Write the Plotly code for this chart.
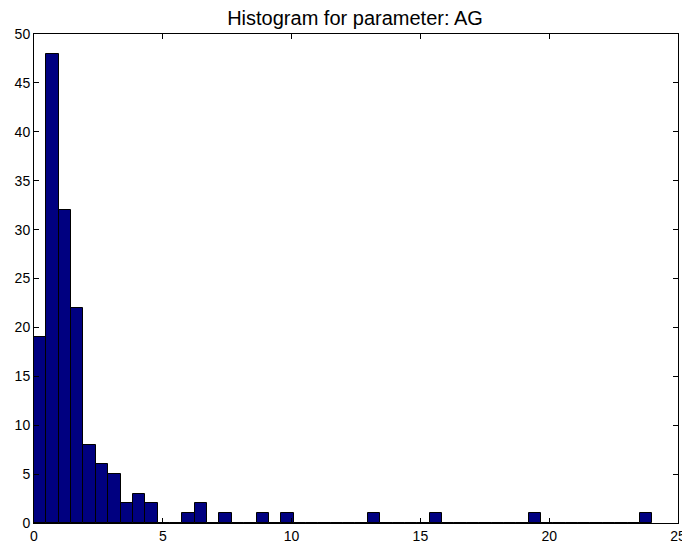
import numpy as np
import plotly.graph_objects as go

# Histogram data: 50 bins spanning 0 .. 24
bin_min = 0.0
bin_max = 24.0
n_bins = 50
counts = [19, 48, 32, 22, 8, 6, 5, 2, 3, 2,
          0, 0, 1, 2, 0, 1, 0, 0, 1, 0,
          1, 0, 0, 0, 0, 0, 0, 1, 0, 0,
          0, 0, 1, 0, 0, 0, 0, 0, 0, 0,
          1, 0, 0, 0, 0, 0, 0, 0, 0, 1]
x_ticks = [0, 5, 10, 15, 20, 25]
y_ticks = [0, 5, 10, 15, 20, 25, 30, 35, 40, 45, 50]
title_text = "Histogram for parameter: AG"

edges = np.linspace(bin_min, bin_max, n_bins + 1)
centers = (edges[:-1] + edges[1:]) / 2
width = edges[1] - edges[0]

fig = go.Figure()
fig.add_trace(go.Bar(
    x=centers, y=counts, width=width,
    marker=dict(color="#000080", line=dict(color="black", width=1)),
    hoverinfo="x+y",
))

axis_common = dict(
    showgrid=False, zeroline=False, showline=True, linecolor="black", linewidth=1,
    mirror="allticks", ticks="inside", ticklen=5, tickcolor="black", tickwidth=1,
    automargin=False,
    tickfont=dict(family="Liberation Sans, Arial", size=14, color="black"),
)
fig.update_xaxes(range=[0, 25], tickvals=x_ticks, ticktext=[str(v) for v in x_ticks], **axis_common)
fig.update_yaxes(range=[0, 50], tickvals=y_ticks, ticktext=[str(v) for v in y_ticks], **axis_common)

# page body has an 8px default margin, so the figure is placed at (8, 8)
W, H = 682, 537
fig.update_layout(
    width=W, height=H,
    margin=dict(l=26, r=12, t=26, b=22),
    paper_bgcolor="white", plot_bgcolor="white",
    bargap=0, showlegend=False,
    title=dict(text=title_text, x=347 / W, xanchor="center", y=1 - 10 / H, yanchor="middle",
               font=dict(family="Liberation Sans, Arial", size=20, color="black")),
)
fig.write_html("out.html")
